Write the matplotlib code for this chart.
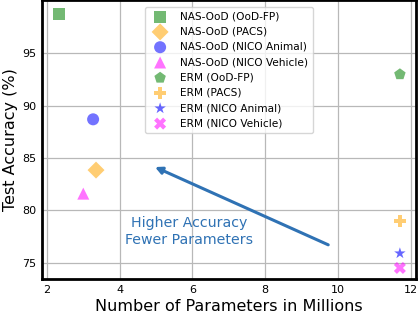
import matplotlib
matplotlib.use("Agg")
import matplotlib.pyplot as plt

# data
labels = ["NAS-OoD (OoD-FP)", "NAS-OoD (PACS)", "NAS-OoD (NICO Animal)", "NAS-OoD (NICO Vehicle)",
          "ERM (OoD-FP)", "ERM (PACS)", "ERM (NICO Animal)", "ERM (NICO Vehicle)"]
params = [2.33, 3.35, 3.27, 3.0, 11.7, 11.7, 11.7, 11.7]
accuracy = [98.8, 83.85, 88.7, 81.6, 93.0, 79.0, 75.9, 74.5]
markers = ["s", "D", "o", "^", "p", "P", "*", "X"]
colors = ["green", "orange", "blue", "magenta", "green", "orange", "blue", "magenta"]
alphas = [0.55, 0.55, 0.55, 0.55, 0.55, 0.55, 0.6, 0.55]

fig = plt.figure(figsize=(4.18, 3.14), dpi=100)
ax = fig.add_axes([0.1, 0.11, 0.895, 0.89])

for x, y, m, c, a, lab in zip(params, accuracy, markers, colors, alphas, labels):
    ax.scatter(x, y, marker=m, color=c, alpha=a, s=75, edgecolors="none", label=lab, zorder=3)

ax.annotate("", xy=(4.9, 84.25), xytext=(9.8, 76.6),
            arrowprops=dict(arrowstyle="-|>", color="#2f72b4", lw=2.2, mutation_scale=10))
ax.text(5.9, 78.0, "Higher Accuracy\nFewer Parameters", color="#2f72b4",
        fontsize=10.2, ha="center", va="center", linespacing=1.3)

ax.set_xlim(1.86, 12.14)
ax.set_ylim(73.4, 100.1)
ax.set_xticks([2, 4, 6, 8, 10, 12])
ax.set_yticks([75, 80, 85, 90, 95])
ax.tick_params(labelsize=8, length=0, pad=4)
ax.grid(True, color="#b8b8b8", linewidth=0.9)
ax.set_axisbelow(True)
for s in ax.spines.values():
    s.set_linewidth(2)
    s.set_color("black")

ax.set_xlabel("Number of Parameters in Millions", fontsize=11.5, labelpad=3)
ax.set_ylabel("Test Accuracy (%)", fontsize=11.5, labelpad=3)

ax.legend(loc="upper center", fontsize=7.6, frameon=True, borderpad=0.45,
          handletextpad=0.9, labelspacing=0.5, bbox_to_anchor=(0.5, 0.995))

fig.savefig("out.png", dpi=100)
